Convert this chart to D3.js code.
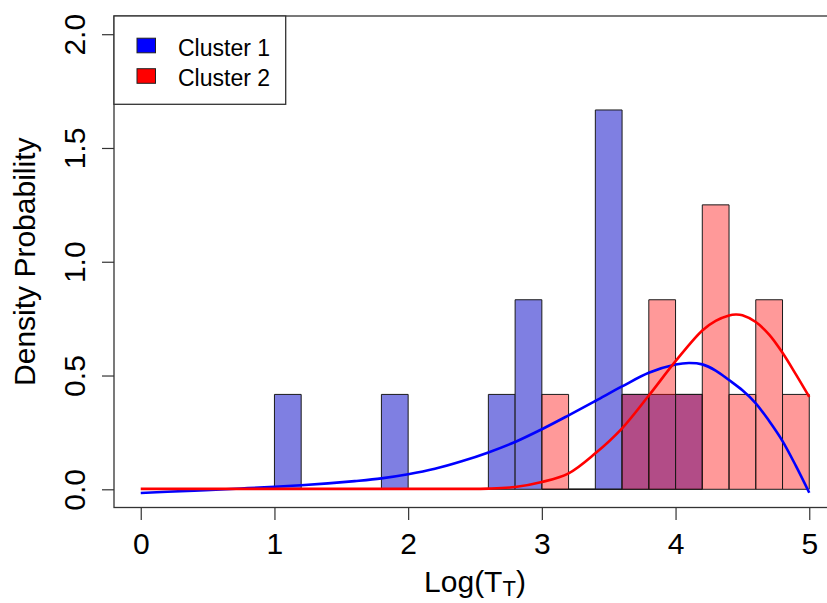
<!DOCTYPE html>
<html>
<head>
<meta charset="utf-8">
<script src="https://cdn.jsdelivr.net/npm/d3@7"></script>
<style>
  body { margin: 0; background: #fff; }
  svg { display: block; }
  text { font-family: "Liberation Sans", Arial, sans-serif; fill: #000; }
</style>
</head>
<body>
<svg id="chart" width="827" height="603"></svg>
<script>
// Histogram bins (left edges) and bin width
const binStarts = [0.0, 0.2, 0.4, 0.6, 0.8, 1.0, 1.2, 1.4, 1.6, 1.8,
                   2.0, 2.2, 2.4, 2.6, 2.8, 3.0, 3.2, 3.4, 3.6, 3.8,
                   4.0, 4.2, 4.4, 4.6, 4.8];
const binWidth = 0.2;

// Density per bin for each cluster
const cluster1Density = [0, 0, 0, 0, 0, 0.417, 0, 0, 0, 0.417,
                         0, 0, 0, 0.417, 0.833, 0, 0, 1.667, 0.417, 0.417,
                         0.417, 0, 0, 0, 0];
const cluster2Density = [0, 0, 0, 0, 0, 0, 0, 0, 0, 0,
                         0, 0, 0, 0, 0, 0.417, 0, 0, 0.417, 0.833,
                         0.417, 1.25, 0.417, 0.833, 0.417];
// Range covered by each cluster's histogram
const cluster1Range = [1.0, 4.2];
const cluster2Range = [3.0, 5.0];

// Smoothed density curves
const curve1X = [0, 0.2, 0.4, 0.6, 0.8, 1.0, 1.2, 1.4, 1.6, 1.8, 2.0, 2.2, 2.4, 2.6, 2.8,
                 3.0, 3.2, 3.4, 3.6, 3.8, 4.0, 4.1, 4.2, 4.3, 4.4, 4.5, 4.6, 4.7, 4.8, 4.9, 5.0];
const curve1Y = [-0.016, -0.011, -0.006, -0.001, 0.005, 0.011, 0.018, 0.026, 0.036, 0.048,
                 0.066, 0.09, 0.123, 0.162, 0.208, 0.264, 0.325, 0.388, 0.452, 0.512,
                 0.548, 0.555, 0.549, 0.522, 0.48, 0.435, 0.378, 0.30, 0.212, 0.103, -0.015];
const curve2X = [0, 0.5, 1.0, 1.5, 2.0, 2.4, 2.6, 2.8, 3.0, 3.2, 3.4, 3.6, 3.8, 4.0,
                 4.2, 4.3, 4.4, 4.45, 4.5, 4.6, 4.7, 4.8, 4.9, 5.0];
const curve2Y = [0.002, 0.002, 0.002, 0.002, 0.002, 0.002, 0.003, 0.01, 0.032, 0.07,
                 0.158, 0.268, 0.412, 0.563, 0.698, 0.74, 0.764, 0.768, 0.765, 0.735,
                 0.68, 0.60, 0.505, 0.406];

const xTicks = [0, 1, 2, 3, 4, 5];
const yTicks = [0, 0.5, 1.0, 1.5, 2.0];
const yTickLabels = ["0.0", "0.5", "1.0", "1.5", "2.0"];
const seriesNames = ["Cluster 1", "Cluster 2"];
const seriesColors = ["#0000ff", "#ff0000"];

const svg = d3.select("#chart");

// Plot region (right edge runs past the canvas)
const plot = { left: 114, right: 836, top: 16, bottom: 507.5 };

const x = d3.scaleLinear().domain([-0.2, 5.2]).range([plot.left, plot.right]);
const y = d3.scaleLinear().domain([-0.08, 2.08]).range([plot.bottom, plot.top]);

function barPath(start, value) {
  const x0 = x(start), x1 = x(start + binWidth), y0 = y(0), y1 = y(value);
  return `M${x0},${y0}H${x1}V${y1}H${x0}Z`;
}

function drawBars(density, range, fill, cls) {
  const bins = binStarts.map((s, i) => ({ s, v: density[i] }))
    .filter(d => d.s >= range[0] - 1e-9 && d.s + binWidth <= range[1] + 1e-9);
  svg.append("g").attr("class", cls)
    .selectAll("path").data(bins).join("path")
    .attr("d", d => barPath(d.s, d.v))
    .attr("fill", fill)
    .attr("stroke", "#1a1a1a")
    .attr("stroke-width", 1);
}

drawBars(cluster1Density, cluster1Range, "#7f7fe2", "bars1");
drawBars(cluster2Density, cluster2Range, "rgba(255,0,0,0.4)", "bars2");

// Density curves
const line = d3.line().x(d => x(d[0])).y(d => y(d[1])).curve(d3.curveCatmullRom.alpha(0.5));
svg.append("path")
  .datum(curve1X.map((v, i) => [v, curve1Y[i]]))
  .attr("d", line).attr("fill", "none")
  .attr("stroke", seriesColors[0]).attr("stroke-width", 2.6);
svg.append("path")
  .datum(curve2X.map((v, i) => [v, curve2Y[i]]))
  .attr("d", line).attr("fill", "none")
  .attr("stroke", seriesColors[1]).attr("stroke-width", 2.6);

// Plot box
svg.append("rect")
  .attr("x", plot.left).attr("y", plot.top)
  .attr("width", plot.right - plot.left).attr("height", plot.bottom - plot.top)
  .attr("fill", "none").attr("stroke", "#333").attr("stroke-width", 1.3);

// X axis
const xAxis = d3.axisBottom(x).tickValues(xTicks).tickSize(12).tickPadding(3)
  .tickFormat(d3.format("d"));
const gx = svg.append("g").attr("transform", `translate(0,${plot.bottom + 0.5})`).call(xAxis);
gx.select(".domain").remove();
gx.selectAll(".tick line").attr("stroke", "#333").attr("stroke-width", 1.2);
gx.selectAll(".tick text")
  .attr("font-family", "Liberation Sans, Arial, sans-serif")
  .attr("font-size", 30).attr("dy", null).attr("y", 46);

// Y axis
const yAxis = d3.axisLeft(y).tickValues(yTicks).tickSize(12)
  .tickFormat((d, i) => yTickLabels[i]);
const gy = svg.append("g").attr("transform", `translate(${plot.left},0)`).call(yAxis);
gy.select(".domain").remove();
gy.selectAll(".tick line").attr("stroke", "#333").attr("stroke-width", 1.2);
gy.selectAll(".tick text")
  .attr("font-family", "Liberation Sans, Arial, sans-serif")
  .attr("font-size", 30)
  .attr("x", null).attr("dy", null)
  .attr("text-anchor", "middle")
  .attr("transform", "translate(-29,0) rotate(-90)");

// Axis titles
const xt = svg.append("text")
  .attr("x", (plot.left + plot.right) / 2).attr("y", 592)
  .attr("text-anchor", "middle").attr("font-size", 30);
xt.append("tspan").text("Log(T");
xt.append("tspan").attr("font-size", 22).attr("dy", 4).text("T");
xt.append("tspan").attr("dy", -4).text(")");

svg.append("text")
  .attr("transform", `translate(35,${(plot.top + plot.bottom) / 2}) rotate(-90)`)
  .attr("text-anchor", "middle").attr("font-size", 30)
  .text("Density Probability");

// Legend
const lg = svg.append("g");
lg.append("rect")
  .attr("x", plot.left).attr("y", plot.top)
  .attr("width", 171.7).attr("height", 88.3)
  .attr("fill", "#fff").attr("stroke", "#333").attr("stroke-width", 1.3);
seriesNames.forEach((name, i) => {
  const cy = 45.5 + i * 30.5;
  lg.append("rect")
    .attr("x", 137).attr("y", cy - 7.3).attr("width", 18.5).attr("height", 14.6)
    .attr("fill", seriesColors[i]).attr("stroke", "#222").attr("stroke-width", 1);
  lg.append("text")
    .attr("x", 178).attr("y", cy + 10.2)
    .attr("font-size", 23).text(name);
});
</script>
</body>
</html>
